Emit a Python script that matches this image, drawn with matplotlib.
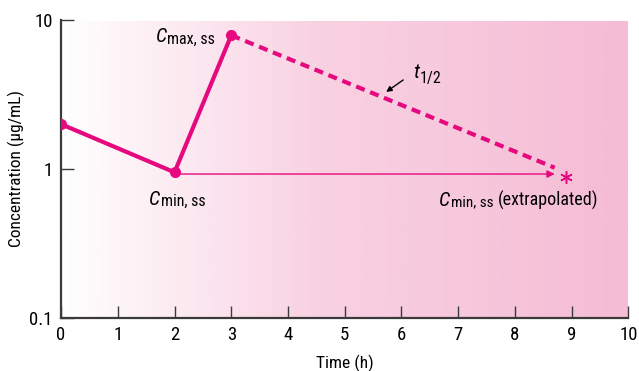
# Steady-state concentration chart with extrapolated Cmin
import matplotlib.pyplot as plt
import numpy as np
from matplotlib.colors import LinearSegmentedColormap

# Data
time_solid = [0, 2, 3]
conc_solid = [2.0, 0.95, 7.9]
time_dashed = [3, 8.7]
conc_dashed = [7.9, 1.02]
arrow_start = (2.05, 0.925)
arrow_end = (8.7, 0.925)
extrap_point = (8.9, 0.88)
x_ticks = [0, 1, 2, 3, 4, 5, 6, 7, 8, 9, 10]
y_ticks = [0.1, 1, 10]
y_labels = ['0.1', '1', '10']

magenta = '#e6087e'
plt.rcParams['font.family'] = ['Roboto Condensed', 'DejaVu Sans']

fig = plt.figure(figsize=(6.39, 3.71), dpi=100)
ax = fig.add_axes([0.0955, 0.143, 0.888, 0.803])

# Background gradient white -> pink
cmap = LinearSegmentedColormap.from_list(
    'bg', [(0, '#ffffff'), (0.45, '#f9d2e2'), (1, '#f5bcd5')])
grad = np.linspace(0, 1, 256).reshape(1, -1)
ax.imshow(grad, extent=[0, 10, 0.1, 10], aspect='auto', cmap=cmap, zorder=0,
          interpolation='bicubic')

ax.plot(time_solid, conc_solid, color=magenta, lw=3, marker='o', ms=7, zorder=3)
ax.plot(time_dashed, conc_dashed, color=magenta, lw=3, ls=(0, (2.2, 1.4)), zorder=3)
ax.annotate('', xy=arrow_end, xytext=arrow_start,
            arrowprops=dict(arrowstyle='-|>', color=magenta, lw=1.0,
                            mutation_scale=11, shrinkA=0, shrinkB=0), zorder=3)
ax.plot(*extrap_point, marker=(6, 2, 0), color=magenta, ms=9, mew=1.1, zorder=3)


# italic symbol with a bigger-than-mathtext subscript
def sym_label(x, y, main, sub, size=14.5, subsize=11.5, drop=1.5):
    ax.text(x, y, main, ha='right', va='baseline', style='italic', fontsize=size)
    return ax.annotate(sub, (x, y), xytext=(0.5, -drop), textcoords='offset points',
                       ha='left', va='baseline', fontsize=subsize)


sym_label(1.86, 7.1, 'C', 'max, ss')
sym_label(1.746, 0.575, 'C', 'min, ss', drop=0.5)
sub = sym_label(6.86, 0.565, 'C', 'min, ss', subsize=11, drop=0.5)
ax.annotate('(extrapolated)', xy=(1, 0), xycoords=sub, xytext=(3, 0),
            textcoords='offset points', ha='left', va='bottom', fontsize=13)
sym_label(6.31, 4.1, 't', '1/2', size=15, drop=3.5)
ax.annotate('', xy=(5.73, 3.29), xytext=(6.03, 3.96),
            arrowprops=dict(arrowstyle='-|>', color='black', lw=1.0,
                            mutation_scale=8, shrinkA=0, shrinkB=0))

ax.set_yscale('log')
ax.set_xlim(0, 10)
ax.set_ylim(0.1, 10)
ax.set_xticks(x_ticks)
ax.set_xticklabels([str(t) for t in x_ticks], fontsize=13.5)
ax.set_yticks(y_ticks)
ax.set_yticklabels(y_labels, fontsize=13.5)
ax.yaxis.set_minor_locator(plt.NullLocator())
ax.tick_params(direction='in', length=9, width=1, color='#3a3a3a', pad=6)
ax.tick_params(axis='y', pad=6)
ax.set_xlabel('Time (h)', fontsize=12.5, labelpad=7.5)
ax.set_ylabel('Concentration (\u00b5g/mL)', fontsize=12.5, labelpad=3)
for side in ['top', 'right']:
    ax.spines[side].set_visible(False)
for side in ['left', 'bottom']:
    ax.spines[side].set_color('#3a3a3a')
    ax.spines[side].set_linewidth(1.6)

plt.savefig('out.png', dpi=100)
